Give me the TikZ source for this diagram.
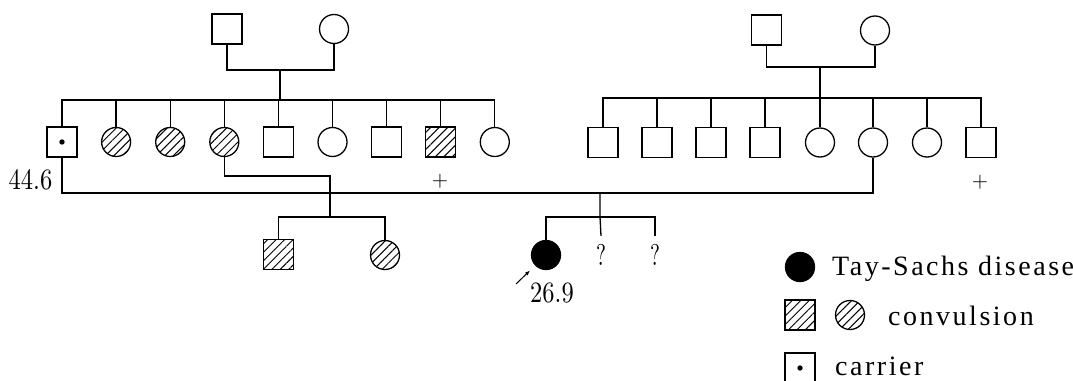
\documentclass[tikz,border=0pt]{standalone}
\usepackage{fontspec}
\usetikzlibrary{patterns.meta,arrows.meta}
\newfontfamily\legendfont{Liberation Serif}[LetterSpace=9]
\newfontfamily\numfont{lmroman10-regular.otf}

\tikzset{
  link/.style={line width=1.3pt},
  male/.style={draw, line width=1.3pt, rectangle, minimum size=30pt, inner sep=0pt},
  female/.style={draw, line width=1.3pt, circle, minimum size=29pt, inner sep=0pt},
  hatched/.style={pattern={Lines[angle=45,distance=6pt,line width=1pt]}},
  affected/.style={fill=black},
  numlabel/.style={font=\numfont\fontsize{29.5}{32}\selectfont, xscale=0.83, inner sep=0pt},
  qmark/.style={font=\numfont\fontsize{30}{32}\selectfont, xscale=0.7, inner sep=0pt, minimum height=38pt},
  dead/.style={font=\numfont\fontsize{21}{24}\selectfont, inner sep=0pt},
  legendtext/.style={font=\legendfont\fontsize{28}{30}\selectfont, inner sep=0pt, anchor=base west},
}

\begin{document}
\begin{tikzpicture}[x=1pt, y=-1pt]
\useasboundingbox (0,0) rectangle (1073,380);
\clip (0,0) rectangle (1073,380);
\fill[white] (0,0) rectangle (1073,380);

% ---- left grandparents and their children
\node[male]   (gf1) at (227,29) {};
\node[female] (gm1) at (334,29) {};

\node[male]            (a1) at (62,142) {};
\node[female,hatched]  (a2) at (116.1,142) {};
\node[female,hatched]  (a3) at (170.2,142) {};
\node[female,hatched]  (a4) at (224.3,142) {};
\node[male]            (a5) at (278.4,142) {};
\node[female]          (a6) at (332.5,142) {};
\node[male]            (a7) at (386.6,142) {};
\node[male,hatched]    (a8) at (440.7,142) {};
\node[female]          (a9) at (494.8,142) {};
\fill (a1.center) circle (2.7pt);

\coordinate (lc) at (280,70);
\coordinate (ls) at (280,100);
\draw[link] (gf1.south) |- (lc) -| (gm1.south);
\draw[link] (lc) -- (ls);
\draw[link] (a1.north) |- (ls) -| (a9.north);
\foreach \i in {2,...,8} \draw[link] (a\i.north) -- (a\i.north |- ls);

% ---- right grandparents and their children
\node[male]   (gf2) at (766.5,30) {};
\node[female] (gm2) at (875,30.5) {};

\node[male]   (b1) at (603,142.5) {};
\node[male]   (b2) at (657,142.5) {};
\node[male]   (b3) at (711,142.5) {};
\node[male]   (b4) at (765,142.5) {};
\node[female] (b5) at (820,142.5) {};
\node[female] (b6) at (873,142.5) {};
\node[female] (b7) at (927,142.5) {};
\node[male]   (b8) at (981,142.5) {};

\coordinate (rc) at (820,67);
\coordinate (rs) at (820,98);
\draw[link] (gf2.south) |- (rc) -| (gm2.south);
\draw[link] (rc) -- (b5.north);
\draw[link] (b1.north) |- (rs) -| (b8.north);
\foreach \i in {2,3,4,6,7} \draw[link] (b\i.north) -- (b\i.north |- rs);

% ---- deceased marks and age
\node[dead] (d1) at (440,181) {+};
\node[dead] (d2) at (980,182) {+};
\node[numlabel] (age1) at (30.5,179.5) {44.6};

% ---- marriage of the carrier and his cousin
\coordinate (mm) at (600,193);
\draw[link] (a1.south) |- (mm) -| (b6.south);

% ---- children of the third daughter
\node[male,hatched]   (g1) at (278.3,254.3) {};
\node[female,hatched] (g2) at (385,255) {};
\coordinate (lk) at (330,176);
\coordinate (lb) at (330,217);
\draw[link] (a4.south) |- (lk) -- (lb);
\draw[link] (g1.north) |- (lb) -| (g2.north);

% ---- children of the marriage
\node[female,affected] (h1) at (546,255) {};
\node[qmark] (h2) at (601,255) {?};
\node[qmark] (h3) at (655,255) {?};
\coordinate (mb) at (600,217);
\draw[link] (mm) -- (mb) -- (h2.north);
\draw[link] (h1.north) |- (mb) -| (h3.north);

% proband arrow and age
\coordinate (arrtail) at (516,284);
\coordinate (arrhead) at (530,270.5);
\draw[line width=1pt, -{Latex[length=5pt,width=4pt]}] (arrtail) -- (arrhead);
\node[numlabel] (age2) at (552,293) {26.9};

% ---- legend
\node[female,affected] (k1) at (800,267) {};
\node[legendtext] (t1) at (832,275) {Tay-Sachs disease};
\node[male,hatched]   (k2) at (800,315) {};
\node[female,hatched] (k3) at (850,315) {};
\node[legendtext] (t2) at (888,325) {convulsion};
\node[male] (k4) at (800,368) {};
\fill (k4.center) circle (2.7pt);
\node[legendtext] (t3) at (835,375) {carrier};
\end{tikzpicture}
\end{document}
